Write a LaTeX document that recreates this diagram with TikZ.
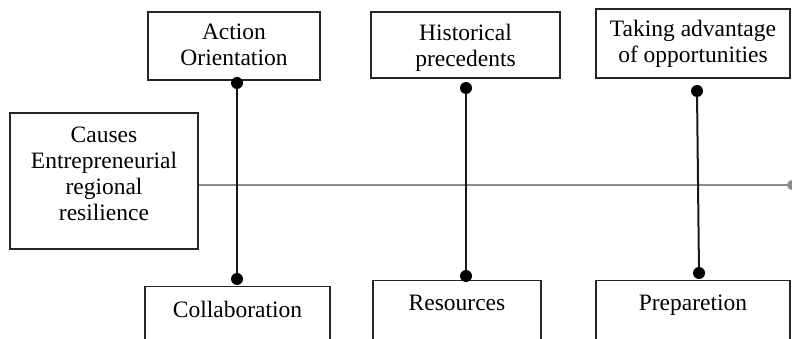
\documentclass[tikz,border=0pt]{standalone}
\usepackage{fontspec}
\setmainfont{Liberation Serif}
\newcommand{\mlines}[2]{\raisebox{#1}[\height][\depth]{\begin{tabular}{@{}c@{}}#2\end{tabular}}}
\begin{document}
\begin{tikzpicture}[x=1pt,y=-1pt,
  box/.style={draw=black!85, line width=1.3pt, inner xsep=2pt,
    font=\fontsize{23.5}{26}\selectfont},
  lowbox/.style={box, anchor=north, text height=15pt, text depth=60pt},
  vline/.style={line width=2pt, black!90},
  hline/.style={line width=1.3pt, black!45},
  dot/.style={circle, fill=black, inner sep=0pt, minimum size=12pt}]
\useasboundingbox (0,0) rectangle (792,339);
\clip (0,0) rectangle (792,339);
% top boxes
\node[box, minimum width=172, minimum height=68] (act) at (234,46) {\mlines{-1.5pt}{Action\\Orientation}};
\node[box, minimum width=189, minimum height=66] (hist) at (465.5,45) {\mlines{-3.5pt}{Historical\\precedents}};
\node[box, minimum width=194, minimum height=69] (take) at (693,43.5) {\mlines{-1pt}{Taking advantage\\of opportunities}};
% left box
\node[box, minimum width=188, minimum height=136] (cause) at (104,181) {\mlines{5pt}{Causes\\Entrepreneurial\\regional\\resilience}};
% bottom boxes
\node[lowbox, minimum width=185, inner ysep=16pt] (coll) at (237.5,286) {Collaboration};
\node[lowbox, minimum width=168, inner ysep=15pt] (res) at (457,280) {Resources};
\node[lowbox, minimum width=194, inner ysep=15pt] (prep) at (693,280) {Preparetion};
% horizontal line
\coordinate (hend) at (792,185);
\draw[hline] (cause.east |- hend) -- (hend);
\node[circle, fill=black!45, inner sep=0pt, minimum size=10pt] (hdot) at (hend) {};
% vertical connectors
\node[dot] (a1) at (237,83) {};
\node[dot] (a2) at (237,279) {};
\node[dot] (h1) at (466,88) {};
\node[dot] (h2) at (466,276) {};
\node[dot] (t1) at (697,91) {};
\node[dot] (t2) at (699,273) {};
\draw[vline] (a1) -- (a2);
\draw[vline] (h1) -- (h2);
\draw[vline] (t1) -- (t2);
\end{tikzpicture}
\end{document}
